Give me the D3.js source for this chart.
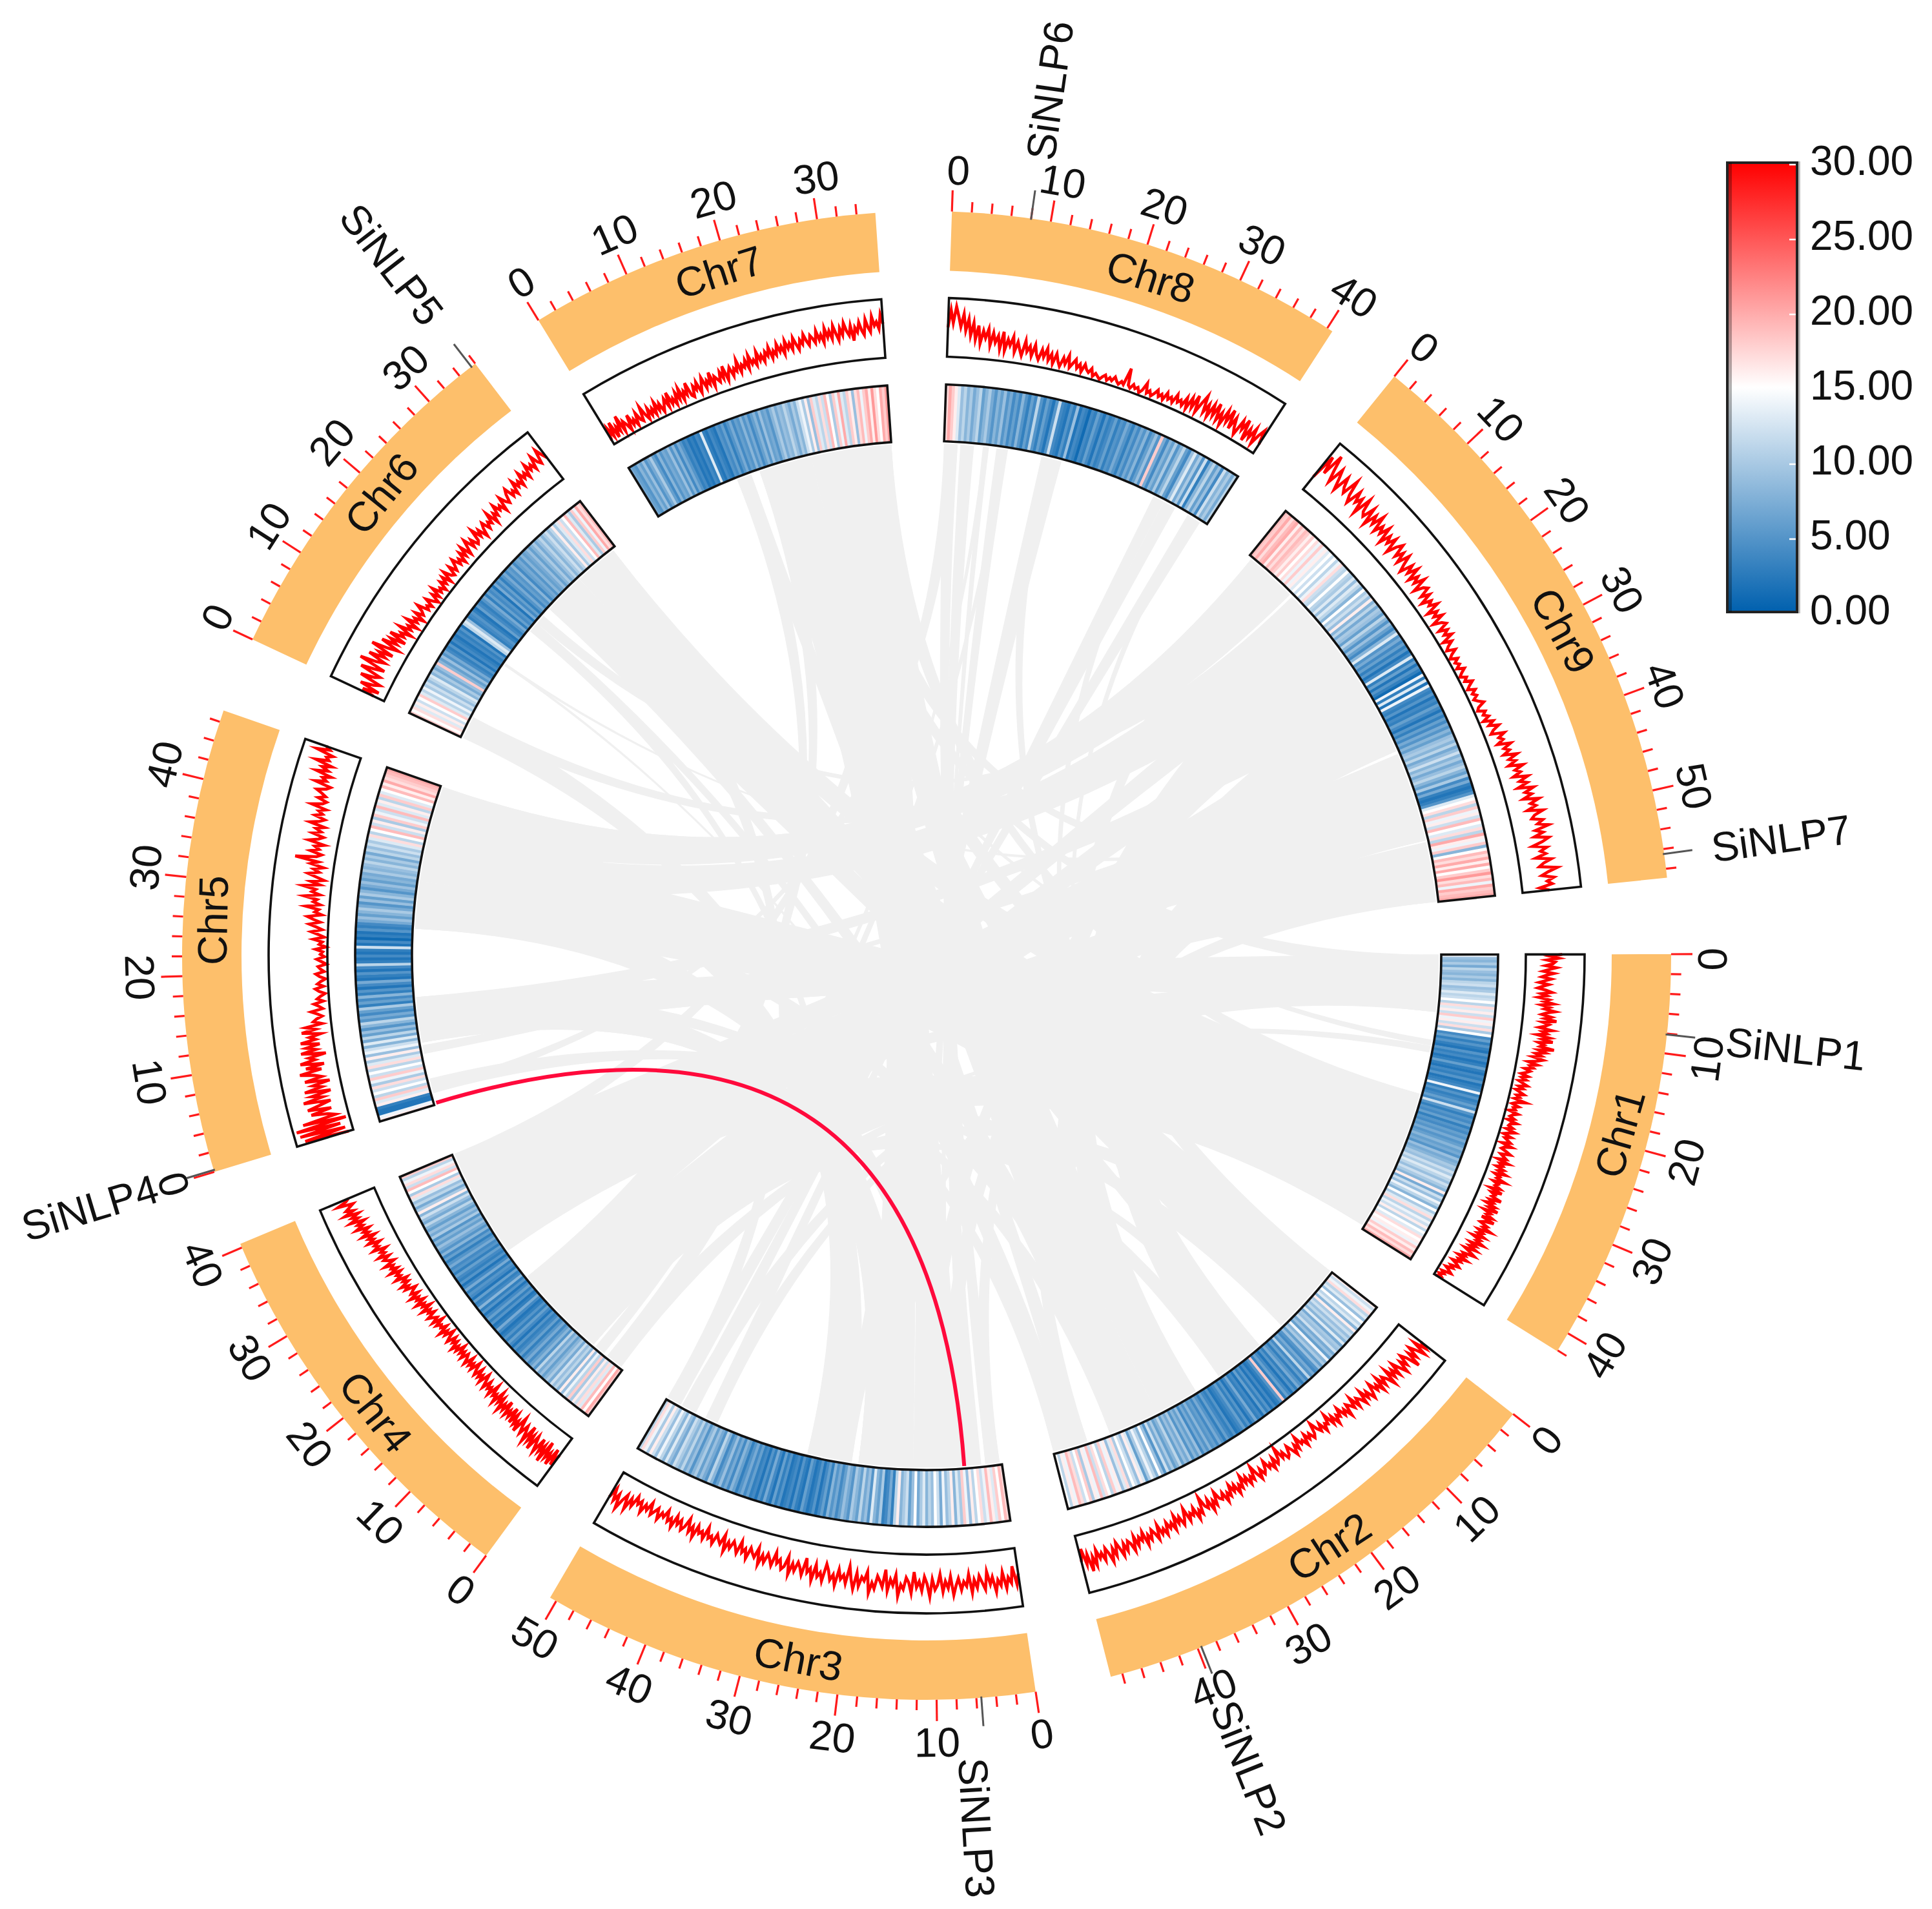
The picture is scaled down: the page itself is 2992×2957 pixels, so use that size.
<!DOCTYPE html>
<html><head><meta charset="utf-8">
<script src="https://cdn.jsdelivr.net/npm/d3@7"></script>
<style>html,body{margin:0;padding:0;background:#fff}svg{display:block}text{font-family:"Liberation Sans",Arial,sans-serif;fill:#111}</style>
</head><body><svg id="c" width="2992" height="2957"></svg>
<script>
const chrNames=["Chr1","Chr2","Chr3","Chr4","Chr5","Chr6","Chr7","Chr8","Chr9"];
const chrLengths=[42.1,49.2,50.7,40.4,47.2,36.0,35.9,40.6,58.9];
const heatLegend=[0,5,10,15,20,25,30];
const genes=[["SiNLP1","Chr1",8.1],["SiNLP2","Chr2",39.6],["SiNLP3","Chr3",5.5],["SiNLP4","Chr5",0.2],["SiNLP5","Chr6",35.5],["SiNLP6","Chr8",8],["SiNLP7","Chr9",56.5]];
const highlight=["Chr5",0.25,"Chr3",5.5];
const blockLinks=[
["Chr4",24.2,29,"Chr9",50,58.9],["Chr4",31,35,"Chr9",43,48],["Chr4",36.5,40.4,"Chr9",36.5,41],
["Chr4",5.6,10,"Chr9",29,36],["Chr4",12,15.5,"Chr9",21,26],["Chr4",16.5,19.5,"Chr9",14,18],
["Chr5",26,32,"Chr1",33,41.6],["Chr5",34,40,"Chr1",20.6,29],["Chr5",41,47.2,"Chr9",0.5,8.2],["Chr5",33,39,"Chr9",9,18],
["Chr1",20.6,28,"Chr6",31,35.5],["Chr1",30,41.6,"Chr6",22.8,28],["Chr2",0,5,"Chr6",31,35.5],["Chr2",6,10.7,"Chr6",23,28],
["Chr2",26.5,33,"Chr7",28,35.9],["Chr2",34.5,40.5,"Chr7",16.2,24],["Chr3",5.5,12,"Chr7",16.2,24],["Chr3",14,21,"Chr7",27,35.9],
["Chr3",5.5,10,"Chr5",26,30],["Chr3",15,21,"Chr5",9.3,16],["Chr2",26.5,33,"Chr9",14,22],["Chr2",35,40.5,"Chr9",26,36],["Chr2",15,22.5,"Chr9",37,49.8],
["Chr1",0,8.4,"Chr5",9.3,16],["Chr3",22,28.6,"Chr5",40,47],["Chr4",5.6,12,"Chr1",20.6,28],["Chr4",14,19.5,"Chr1",29,36],["Chr4",24.2,33,"Chr1",36,41.6]];
const links=[
// Chr1
["Chr1",0,2.5,"Chr7",24,27],["Chr1",2.5,5,"Chr5",9.3,13],["Chr1",5,8.4,"Chr3",46,48.3],["Chr1",3,6,"Chr3",42.5,44.4],["Chr1",5,8.4,"Chr4",27,30],
["Chr1",12.5,13.4,"Chr7",12.7,13.8],["Chr1",13.4,14.4,"Chr4",5.6,7],["Chr1",20.6,23,"Chr7",33,35.9],["Chr1",23,27,"Chr5",29,33],["Chr1",27,31,"Chr4",12,16],
["Chr1",31,36,"Chr6",22.8,26],["Chr1",36,39,"Chr6",26,29],["Chr1",39,41.6,"Chr4",16,19.5],["Chr1",20.6,23,"Chr4",0.4,3],["Chr1",24,27,"Chr4",5.6,8],["Chr1",37,41.6,"Chr4",24.2,27],
// Chr2
["Chr2",0,3,"Chr8",14.4,16],["Chr2",3,8,"Chr6",29,33],["Chr2",8,10.7,"Chr4",33,38],["Chr2",15,17,"Chr6",33,35.5],["Chr2",15,17,"Chr8",37.5,38.5],["Chr2",17,20,"Chr9",43,47],["Chr2",20,22.5,"Chr5",1.7,3.9],
["Chr2",26.5,29,"Chr9",0.5,3],["Chr2",29,33,"Chr7",19,21.6],["Chr2",30,33,"Chr9",29.4,32],["Chr2",33,38,"Chr7",21.6,24],["Chr2",33,37,"Chr5",33,36],["Chr2",38,40.5,"Chr5",13,16],["Chr2",36,40.5,"Chr6",22.8,25],
["Chr2",44,46,"Chr9",14,17],["Chr2",44,46.5,"Chr7",12.7,14.9],["Chr2",46.7,48,"Chr6",12.2,12.6],["Chr2",47,49.2,"Chr5",26,29],["Chr2",46,49.2,"Chr6",18.5,20],["Chr2",0,3,"Chr5",36,39],["Chr2",7,10.7,"Chr7",24,27],
// Chr3
["Chr3",0.3,2.4,"Chr9",18,22],["Chr3",3,5.5,"Chr8",2.4,4.4],["Chr3",0.3,2.4,"Chr8",0,2],["Chr3",5.5,9,"Chr7",30,33],["Chr3",9,13,"Chr7",33,35.8],["Chr3",13,18,"Chr7",27,30],["Chr3",13,18,"Chr5",29,33],
["Chr3",6,9,"Chr9",32,36],["Chr3",10,13,"Chr9",21,25],["Chr3",18,21,"Chr6",0,3.4],["Chr3",18,21,"Chr5",9.3,12],["Chr3",7,8,"Chr8",5.7,6.6],["Chr3",10,12,"Chr8",7.7,9.4],
["Chr3",22,24,"Chr9",56,58.9],["Chr3",22,24,"Chr8",14.4,17.4],["Chr3",24,26,"Chr5",40,44],["Chr3",26,28.6,"Chr6",18.5,20],
["Chr3",42.5,44.4,"Chr8",31.8,33.5],["Chr3",46,48,"Chr8",33.5,35.4],["Chr3",48.5,50.7,"Chr8",37.5,39.6],["Chr3",48.5,50.7,"Chr6",30,33],
// Chr4
["Chr4",3.6,5.2,"Chr8",5.8,6.4],["Chr4",0.4,3,"Chr8",8.6,9.3],["Chr4",8,12,"Chr9",21,25],["Chr4",12,17,"Chr9",29.4,33],["Chr4",9,12,"Chr2",15,17],["Chr4",5.6,9,"Chr2",0,3.5],["Chr4",17,19.5,"Chr7",16.2,18.5],["Chr4",14,17,"Chr7",12.7,14.9],
["Chr4",27,31,"Chr9",50.2,54],["Chr4",31,35,"Chr9",54.7,58.9],["Chr4",35,38,"Chr9",36.5,43],["Chr4",38,40.4,"Chr7",33,35.9],["Chr4",38,40.4,"Chr9",43,49.8],["Chr4",33,36,"Chr9",33,36],
// Chr5
["Chr5",7.6,8.9,"Chr9",36.5,38],["Chr5",13,16,"Chr9",25.8,29],["Chr5",33,36,"Chr1",31,34],["Chr5",36,40,"Chr9",11,13.5],["Chr5",40,44,"Chr9",4.2,8.2],["Chr5",44,47.2,"Chr9",0.5,4],["Chr5",26,30,"Chr1",27,31],["Chr5",9.3,12.3,"Chr1",4.2,8.4],
// Chr6, Chr7, Chr8
["Chr6",1.7,3.4,"Chr9",14,17],["Chr6",20,21.5,"Chr9",8.6,10],["Chr6",12.2,12.6,"Chr9",45,46],["Chr7",16.2,19,"Chr2",26.5,29],["Chr7",20,24,"Chr1",33,37],["Chr7",27,30,"Chr9",47,49.8],["Chr8",0,2,"Chr5",1.7,3],["Chr8",31.8,33,"Chr2",18,20]];

const heatChr1=[14,9,8,10,7,11,9,8,10,8,11,12,9,10,13,11,12,15,11,17,13,16,12,18,14,16,12,17,10,15,4,6,3,5,3,2,5,3,4,2,3,6,3,2,4,3,5,2,3,4,14,3,5,3,4,6,4,12,5,3,5,4,6,3,5,4,6,5,7,5,6,8,6,7,5,9,7,8,10,9,12,10,13,11,9,12,10,8,16,7,12,9,14,11,8,15,10,13,17,11,14,12,16,11,15,13,17,15,16,14,18,16,19,17,20];
const heatChr2=[16,12,14,17,11,13,9,15,11,13,8,16,10,12,9,11,8,13,7,10,9,12,7,9,6,14,8,10,6,9,5,4,7,5,11,4,6,3,5,7,3,5,2,4,6,3,18,5,3,2,4,2,5,3,6,2,4,3,7,4,2,5,3,6,4,3,2,5,3,4,6,3,5,7,4,6,5,8,5,7,4,9,6,8,5,10,7,9,6,11,8,6,10,7,12,5,9,15,8,11,14,10,6,13,16,9,12,15,10,17,13,9,16,14,18,11,15,17,12,19,14,16,10,18,15,12,17,19,14,16,11,15];
const heatChr3=[17,19,15,18,13,16,19,14,12,17,15,11,16,9,14,18,10,13,8,16,11,9,14,7,12,15,9,11,8,13,10,7,15,9,6,12,10,8,16,11,3,7,4,3,10,6,8,13,5,9,7,11,6,8,10,5,7,9,6,4,7,5,8,3,6,4,2,5,3,2,4,6,2,3,5,2,4,3,2,5,3,6,2,4,7,3,5,2,4,3,6,4,7,5,3,6,8,4,7,5,9,6,4,8,11,5,7,9,6,10,8,5,9,7,11,8,10,12,7,9,13,8,11,14,9,12,16,10,14,17,11];
const heatChr4=[18,20,15,19,13,17,12,16,10,18,11,14,9,16,8,11,9,12,7,10,8,6,9,7,11,5,8,6,4,7,5,3,6,4,3,5,2,4,6,3,5,3,2,4,7,3,2,5,3,6,4,2,5,3,8,4,3,6,2,4,5,3,7,4,2,5,3,4,6,3,5,4,7,5,3,6,4,8,5,7,9,6,8,5,10,7,9,6,8,11,7,9,12,8,16,10,7,11,9,13,17,10,15,19,12,17,14,11,18];
const heatChr5=[16,14,2,2,3,16,13,18,11,15,12,17,10,14,18,12,15,11,17,13,10,16,9,14,12,8,13,7,11,6,9,5,8,11,5,7,4,6,10,3,6,4,8,3,5,2,4,7,2,3,5,2,4,11,3,2,4,2,3,12,2,4,1,3,2,5,3,4,7,9,6,8,10,7,5,9,6,10,8,5,7,9,6,8,7,10,8,9,11,8,10,7,11,9,12,10,13,17,11,15,19,12,16,10,18,14,12,19,13,16,11,18,13,15,19,16,20,17,18,19,20];
const heatChr6=[18,15,17,13,16,12,15,18,13,11,14,10,12,9,11,13,8,10,7,9,18,8,6,9,5,7,4,3,5,2,4,3,2,4,3,5,2,11,13,9,3,4,5,3,2,6,4,3,5,7,3,6,4,5,2,7,4,6,3,5,7,4,6,5,8,4,6,7,5,8,6,7,9,6,8,10,7,9,11,8,10,12,9,11,16,10,13,17,12,15,19,13,10,18,14,20,17,19];
const heatChr7=[7,6,5,8,6,9,5,7,10,6,4,8,5,7,6,9,5,8,4,7,5,3,4,2,3,2,4,3,13,3,2,4,3,2,5,4,6,3,5,7,4,6,5,8,5,7,4,6,8,5,9,6,7,5,8,10,7,9,8,11,9,7,10,8,12,14,10,16,9,18,13,11,17,12,19,15,10,18,14,20,13,11,18,16,9,17,19,14,18,20,16,21,17,15,20,18,21];
const heatChr8=[17,20,18,16,13,9,11,8,10,7,9,11,6,8,10,7,5,8,6,9,5,7,4,6,4,8,5,3,6,4,11,5,3,6,4,2,5,12,4,3,2,5,3,9,2,4,3,1,4,3,6,4,2,5,3,4,6,3,5,4,7,5,3,6,4,7,5,8,4,6,9,5,18,7,4,8,6,10,5,8,11,6,4,9,13,7,10,5,12,3,8,11,6,9,4,12,8,10,7,11];
const heatChr9=[19,18,20,17,19,20,16,19,17,19,18,16,18,15,17,14,18,14,16,13,15,12,15,11,14,17,12,11,15,11,10,13,9,13,11,8,15,10,12,9,16,8,11,7,10,9,6,11,8,5,9,6,4,8,13,5,7,4,6,3,5,2,4,13,3,6,2,5,3,1,14,3,13,2,14,4,3,5,2,4,3,6,4,2,5,3,6,4,7,5,8,6,9,10,8,11,7,9,12,8,10,7,9,11,8,6,10,4,7,3,2,3,5,13,15,17,11,18,14,16,12,19,15,13,17,11,20,16,14,18,8,15,19,17,20,16,20,15,18,21,17,19,14,20,18,19,20];
const heatByChr=[heatChr1,heatChr2,heatChr3,heatChr4,heatChr5,heatChr6,heatChr7,heatChr8,heatChr9];

const lineChr1=[62,42,56,36,50,46,34,52,40,30,48,36,28,44,34,24,40,30,22,36,46,28,38,24,42,34,50,30,44,36,54,40,32,48,38,58,34,46,40,30,52,36,44,28,50,38,56,32,42,36,60,34,46,30,40,26,44,34,20,36,24,30,16,26,20,12,24,14,22,10,18,26,12,20,8,16,24,12,18,10,30,14,8,20,12,16,6,22,14,10,18,8,24,14,12,20,10,26,16,8,22,12,18,24,10,28,16,12,22,30,14,20,26,12,32,18,24,14,28,20,34,16,26,22,38,18,28,24,34,18,40,22,30,26,44,24,32,20,38,28,46,22,36,30,42,24,48,32,26,40,34,50,28,38,30,44,24,40,34,48,26,38,28,42,22,34,44,24,30,18,36,22,28,14,24,30,16,22,10,18,24,8,14,6,12,3];
const lineChr2=[48,62,40,66,50,38,58,44,70,46,36,54,42,62,48,34,56,40,52,32,60,44,36,50,30,54,38,46,28,42,52,34,44,26,48,36,30,44,22,40,32,26,46,30,38,20,34,28,42,24,36,14,30,26,38,20,32,24,10,28,34,22,30,18,36,24,28,12,32,22,38,26,16,30,34,20,28,6,26,32,18,36,24,30,14,28,34,22,38,26,10,32,24,36,20,30,14,34,26,40,22,32,18,36,28,42,24,34,30,16,38,28,44,22,36,30,12,40,32,46,24,36,30,42,18,34,44,28,38,22,46,32,40,28,48,36,44,26,50,38,30,46,36,52,28,42,34,48,30,54,40,34,50,36,56,42,30,52,38,60,44,34,54,40,48,32,58,42,66,36,52,24,46];
const lineChr3=[44,62,30,58,48,66,38,60,50,70,44,56,34,64,52,40,60,46,68,36,56,48,62,42,54,70,38,58,46,64,34,52,60,42,72,50,38,62,46,56,30,66,48,40,60,52,72,36,54,44,64,28,58,48,40,62,52,70,34,50,44,60,38,66,50,28,58,44,52,36,64,46,56,40,30,60,46,54,34,62,42,50,26,56,44,36,52,40,60,30,48,54,38,46,28,52,42,34,50,38,56,28,46,40,32,52,36,44,26,48,38,30,44,34,52,24,42,36,28,46,34,40,22,44,32,38,26,48,30,42,20,36,44,28,38,24,46,32,40,22,36,30,44,26,34,42,22,38,30,46,28,36,24,44,32,54,30,42,60,36,50,30,48];
const lineChr4=[36,58,30,62,42,54,26,66,38,52,30,58,44,32,60,36,50,24,56,40,30,48,36,22,52,34,44,26,46,20,40,30,42,18,38,28,44,22,34,16,40,26,32,14,36,24,30,18,34,22,12,32,20,28,14,30,22,10,28,18,26,12,30,20,14,28,16,24,10,26,18,30,14,22,12,28,20,8,24,16,30,12,22,18,26,10,28,16,22,30,14,24,18,32,12,26,20,34,16,28,22,36,18,30,24,16,34,26,38,22,30,20,40,28,34,24,42,26,36,30,44,24,34,40,28,46,32,38,26,48,36,42,30,50,38,46,32,54,40,48,36,58,44,52,38,62,46,56,42,66,48,60,52,44,70,54,48];
const lineChr5=[8,84,12,90,18,94,6,80,22,34,62,26,66,44,24,70,36,54,20,64,34,48,18,60,30,42,66,28,54,22,62,36,46,16,58,32,48,24,56,30,40,20,52,28,44,16,30,24,14,22,32,12,18,26,10,20,14,6,16,22,8,18,12,4,14,20,6,12,16,2,10,18,5,12,8,20,3,14,9,24,6,16,28,10,20,32,14,26,36,12,24,18,40,16,28,22,44,18,32,26,48,20,36,14,28,42,24,34,18,40,28,68,32,24,44,30,38,22,50,34,26,46,32,42,28,54,38,30,48,36,44,32,58,40,34,50,38,46,56,40,34,62,44,52,38,66,46,58,42,72,50,56,46,76,54,62];
const lineChr6=[20,42,14,50,28,18,56,32,24,62,40,22,70,42,28,60,32,46,22,64,36,18,52,26,40,14,46,22,30,12,38,18,26,10,34,16,24,8,28,14,20,32,12,18,10,26,14,6,22,10,28,12,18,8,24,14,26,10,30,16,12,28,14,22,32,16,24,12,30,18,34,14,26,38,18,30,16,20,40,22,32,14,28,36,20,30,24,42,18,34,26,44,30,36,22,46,34,28,42,50,32,40,30,52,38,46,34,56,42,50,38,60,46,54,42,64,50,44,68,56,46];
const lineChr7=[8,28,12,36,6,24,14,40,10,26,18,6,32,12,20,8,28,14,10,34,18,8,26,12,22,10,30,14,24,8,18,28,12,36,14,22,10,30,16,34,12,26,18,38,14,10,28,20,32,12,24,36,16,28,20,40,14,30,24,18,34,22,42,16,28,36,20,32,26,44,22,34,28,40,24,46,30,36,26,48,32,40,28,44,36,50,30,42,34,52,38,46,32,54,40,48,36,56,44,34,50,42,58,46,38,54,48,40,60,44,52,38,62,46,56,42,64,50,38,58,46,66,52,44,60,34,56,48,64,50,42,68,54,46,72,56,62,50,74,58];
const lineChr8=[50,80,58,86,70,52,74,46,66,38,60,32,56,26,48,36,52,24,46,30,42,20,50,18,38,28,44,18,36,24,14,40,22,32,16,36,20,12,30,18,34,14,26,10,28,16,8,24,14,30,10,18,26,12,20,8,22,14,10,18,6,12,8,4,10,14,6,12,8,16,10,6,12,8,38,10,6,14,8,12,4,10,24,8,14,6,12,20,10,16,8,22,12,18,10,26,14,20,12,28,10,32,16,40,12,30,46,18,34,14,38,20,44,16,32,12,40,22,46,14,36,20,10,38,24,44,8,32,18,38,12,30,42,18];
const lineChr9=[28,74,44,84,58,38,68,52,34,64,48,40,70,44,32,60,42,54,28,62,40,34,56,26,50,36,58,30,46,34,52,24,44,32,48,22,40,50,28,42,24,46,30,18,40,26,44,20,36,24,42,16,32,38,20,34,14,30,22,36,12,28,18,32,10,24,30,12,26,16,28,8,22,12,6,20,10,4,16,8,14,6,18,10,4,14,8,20,12,6,18,10,16,8,14,22,10,6,18,12,20,8,24,14,30,18,12,34,22,28,16,38,24,32,20,42,26,36,22,46,30,38,24,48,32,44,26,52,36,46,30,56,40,48,32,58,42,36,54,44,62,38,50,34,58,46,28,52,40,48,30,56,42,34,64,48,36,56,44,52,30,46];
const lineByChr=[lineChr1,lineChr2,lineChr3,lineChr4,lineChr5,lineChr6,lineChr7,lineChr8,lineChr9];

const W=2992,H=2957,CX=1435,CY=1480;
const R={bandIn:1061,bandOut:1153,trackIn:928,trackOut:1019,heatIn:797,heatOut:885,link:793,tickMajor:33,tickMinor:16,tickLabel:1218,name:1107,geneLine:44,geneLabel:1245};
const GAP=5.9, START=-0.1;
const perMb=(360-GAP*chrNames.length)/d3.sum(chrLengths);
const rad=d=>d*Math.PI/180;
const starts=[];let cur=START;
chrLengths.forEach(l=>{starts.push(cur);cur+=l*perMb+GAP;});
const angle=Object.fromEntries(chrNames.map((n,i)=>[n,d3.scaleLinear().domain([0,chrLengths[i]]).range([starts[i],starts[i]+chrLengths[i]*perMb])]));
const d3a=d=>rad(d+90);
const pt=(deg,r)=>[r*Math.cos(rad(deg)),r*Math.sin(rad(deg))];
const color=d3.scaleLinear().domain([0,15,30]).range(["#0060ae","#ffffff","#ff0000"]);
const svg=d3.select("#c");
svg.append("rect").attr("width",W).attr("height",H).attr("fill","#fff");
const g=svg.append("g").attr("transform",`translate(${CX},${CY})`);
const fs=64;

const ribbon=d3.ribbon();
g.append("g").selectAll("path").data(blockLinks.concat(links)).join("path")
 .attr("fill","#f0f0f0")
 .attr("d",l=>ribbon({source:{startAngle:d3a(angle[l[0]](l[1])),endAngle:d3a(angle[l[0]](l[2])),radius:R.link},target:{startAngle:d3a(angle[l[3]](l[4])),endAngle:d3a(angle[l[3]](l[5])),radius:R.link}}));

{const a=pt(angle[highlight[0]](highlight[1]),R.heatIn-4),b=pt(angle[highlight[2]](highlight[3]),R.heatIn-4);
 const p=d3.path();p.moveTo(a[0],a[1]);p.quadraticCurveTo(0,0,b[0],b[1]);
 g.append("path").attr("d",p.toString()).attr("fill","none").attr("stroke","#ff0a3c").attr("stroke-width",6);}

const arc=d3.arc();
chrNames.forEach((name,i)=>{
 const sc=angle[name],len=chrLengths[i];
 const a0=sc(0),a1=sc(len);
 const s=g.append("g");
 s.append("path").attr("fill","#fdbf6b").attr("d",arc({innerRadius:R.bandIn,outerRadius:R.bandOut,startAngle:d3a(a0),endAngle:d3a(a1)}));
 const tv=d3.range(0,len+1e-6,2);
 s.selectAll("line.t").data(tv).join("line").attr("stroke","#ff1a1a").attr("stroke-width",3.2)
  .attr("x1",d=>pt(sc(d),R.bandOut)[0]).attr("y1",d=>pt(sc(d),R.bandOut)[1])
  .attr("x2",d=>pt(sc(d),R.bandOut+(d%10===0?R.tickMajor:R.tickMinor))[0])
  .attr("y2",d=>pt(sc(d),R.bandOut+(d%10===0?R.tickMajor:R.tickMinor))[1]);
 const lower=t=>{const v=((t%360)+360)%360;return v>0.5&&v<180;};
 const rot=t=>lower(t)?t-90:t+90;
 s.selectAll("text.t").data(tv.filter(d=>d%10===0)).join("text")
  .attr("font-size",fs).attr("text-anchor","middle").attr("dy","0.36em").attr("dx",d=>lower(sc(d))?0:8)
  .attr("transform",d=>{const p=pt(sc(d),R.tickLabel);return `translate(${p[0]},${p[1]}) rotate(${rot(sc(d))})`;})
  .text(d=>d);
 const mid=sc(len/2),mp=pt(mid,R.name);
 s.append("text").attr("font-size",fs).attr("text-anchor","middle").attr("dy","0.36em").attr("dx",8+24*Math.abs(Math.cos(rad(mid))))
  .attr("transform",`translate(${mp[0]},${mp[1]}) rotate(${rot(mid)})`).text(name);
 const vals=lineByChr[i];
 const rs=d3.scaleLinear().domain([0,100]).range([R.trackIn,R.trackOut]);
 const line=d3.lineRadial().angle((d,j)=>d3a(sc(j/(vals.length-1)*len))).radius(d=>rs(d));
 s.append("path").attr("d",line(vals)).attr("fill","none").attr("stroke","#ff0000").attr("stroke-width",4.6).attr("stroke-linejoin","miter").attr("stroke-miterlimit",6);
 s.append("path").attr("fill","none").attr("stroke","#111").attr("stroke-width",3.6).attr("d",arc({innerRadius:R.trackIn,outerRadius:R.trackOut,startAngle:d3a(a0),endAngle:d3a(a1)}));
 const hv=heatByChr[i],w=len/hv.length;
 s.append("g").selectAll("path").data(hv).join("path").attr("fill",d=>color(d))
  .attr("d",(d,j)=>arc({innerRadius:R.heatIn,outerRadius:R.heatOut,startAngle:d3a(sc(j*w))-0.0004,endAngle:d3a(sc(Math.min(len,(j+1)*w)))+(j<hv.length-1?0.0004:0)}));
 s.append("path").attr("fill","none").attr("stroke","#111").attr("stroke-width",3.6).attr("d",arc({innerRadius:R.heatIn,outerRadius:R.heatOut,startAngle:d3a(a0),endAngle:d3a(a1)}));
});

genes.forEach(([n,c,mb])=>{
 const t=angle[c](mb),p0=pt(t,R.bandOut-2),p1=pt(t,R.bandOut+R.geneLine);
 const lt=n==="SiNLP3"?t+0.9:t,p=pt(lt,n==="SiNLP7"?R.geneLabel-18:R.geneLabel);
 g.append("line").attr("x1",p0[0]).attr("y1",p0[1]).attr("x2",p1[0]).attr("y2",p1[1]).attr("stroke","#555").attr("stroke-width",3);
 const right=Math.cos(rad(t))>=0;
 g.append("text").attr("font-size",fs).attr("dy","0.36em").attr("text-anchor",right?"start":"end")
  .attr("transform",`translate(${p[0]},${p[1]}) rotate(${right?lt:lt-180})`).text(n);
});

const defs=svg.append("defs");
const gr=defs.append("linearGradient").attr("id","cb").attr("x1",0).attr("x2",0).attr("y1",1).attr("y2",0);
gr.selectAll("stop").data(heatLegend).join("stop").attr("offset",d=>d/30).attr("stop-color",d=>color(d));
const ly=d3.scaleLinear().domain([0,30]).range([948,252]);
const lb=svg.append("g");
lb.append("rect").attr("x",2784).attr("y",250).attr("width",4).attr("height",700).attr("fill","#bbb");
lb.append("rect").attr("x",2675).attr("y",ly(30)).attr("width",108).attr("height",ly(0)-ly(30)).attr("fill","url(#cb)").attr("stroke","#222").attr("stroke-width",4);
lb.append("rect").attr("x",2677).attr("y",ly(30)).attr("width",5).attr("height",ly(0)-ly(30)).attr("fill","#000").attr("opacity",0.3);
lb.selectAll("line").data(heatLegend.filter(d=>d>0)).join("line").attr("x1",2771).attr("x2",2781).attr("y1",d=>ly(d)+3).attr("y2",d=>ly(d)+3).attr("stroke","#fff").attr("stroke-width",2.5);
lb.selectAll("text").data(heatLegend).join("text").attr("x",2803).attr("y",d=>ly(d)+19).attr("font-size",64).text(d=>d.toFixed(2));
</script></body></html>
